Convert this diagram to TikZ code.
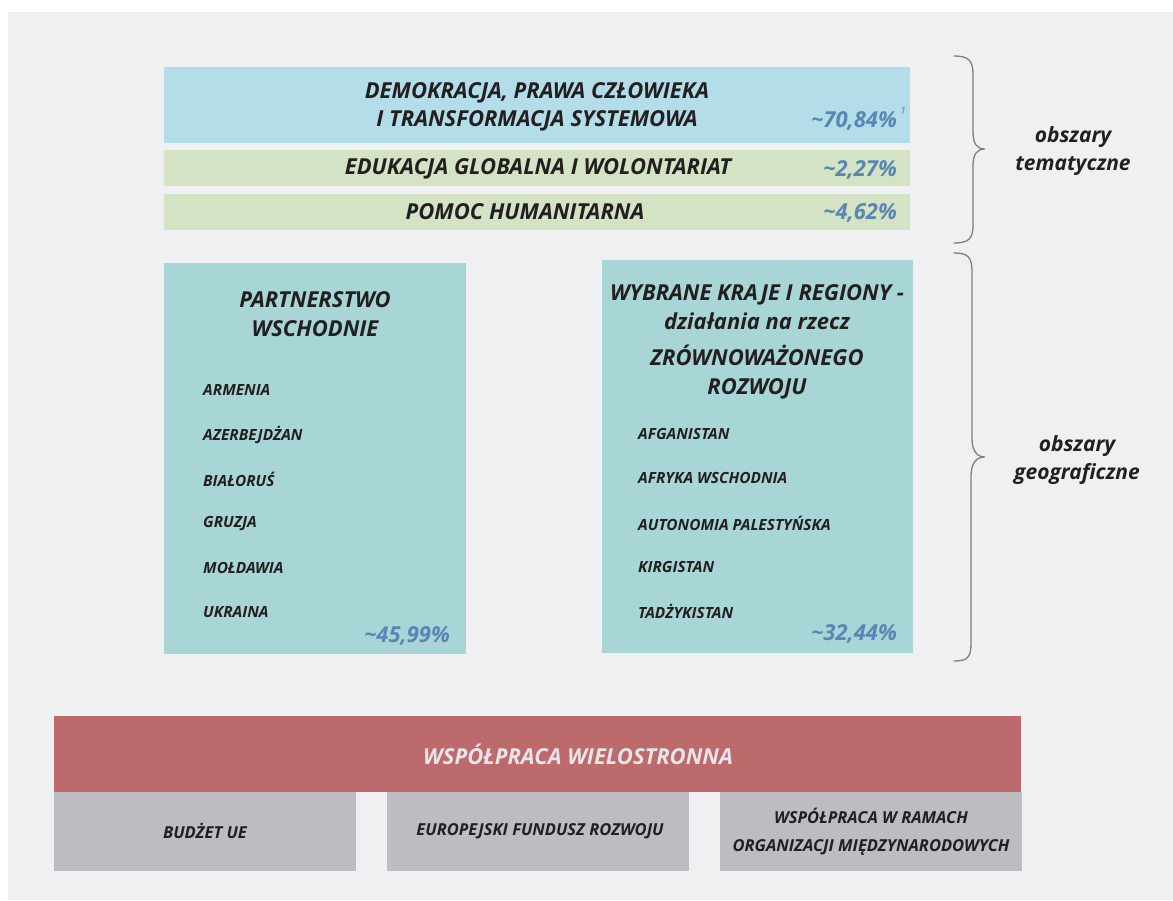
\documentclass[tikz,border=0pt]{standalone}
\usepackage{fontspec}
\setmainfont{Open Sans}
\newfontfamily\condf{Open Sans}
\definecolor{panel}{HTML}{EFF0F2}
\definecolor{bluebox}{HTML}{B3DDE9}
\definecolor{greenbox}{HTML}{D3E3C3}
\definecolor{geobox}{HTML}{A8D5D6}
\definecolor{redbox}{HTML}{BD6A6D}
\definecolor{greybox}{HTML}{BCBDC0}
\definecolor{ink}{HTML}{231F20}
\definecolor{pct}{HTML}{5A86B3}
\definecolor{lighttxt}{HTML}{E6E6E8}
\definecolor{bracec}{HTML}{7F7F7F}
\tikzset{
  area/.style={draw=none, inner sep=0pt, outer sep=0pt, anchor=north west},
  head/.style={text=ink, font=\condf\bfseries\itshape\fontsize{22}{28.5}\selectfont, align=center, inner sep=0pt},
  pcttxt/.style={text=pct, font=\condf\bfseries\itshape\fontsize{22}{26}\selectfont, inner sep=0pt, anchor=east},
  country/.style={text=ink, font=\bfseries\itshape\fontsize{15.4}{18}\selectfont, inner sep=0pt, anchor=west},
  side/.style={text=ink, font=\bfseries\itshape\fontsize{21}{28}\selectfont, align=center, inner sep=0pt},
  foot/.style={text=ink, font=\condf\bfseries\itshape\fontsize{16.5}{28}\selectfont, align=center, inner sep=0pt},
  bracepath/.style={draw=bracec, line width=1.3pt, line cap=round},
}
\begin{document}
\begin{tikzpicture}[x=1pt,y=-1pt]
\useasboundingbox (0,0) rectangle (1173,900);
\fill[white] (0,0) rectangle (1173,900);
\fill[panel] (8,12) rectangle (1173,900);

% thematic areas
\node[area, fill=bluebox, minimum width=746pt, minimum height=76pt] (demo) at (164,67) {};
\node[area, fill=greenbox, minimum width=746pt, minimum height=36pt] (edu) at (164,150) {};
\node[area, fill=greenbox, minimum width=746pt, minimum height=36pt] (hum) at (164,194) {};

\node[head] (demot) at (537,107) {DEMOKRACJA, PRAWA CZŁOWIEKA\\I TRANSFORMACJA SYSTEMOWA};
\node[pcttxt] (demop) at (897,121) {\textasciitilde70,84\%};
\node[text=pct, font=\condf\itshape\fontsize{10}{11}\selectfont, inner sep=0pt] (demon) at (903,111) {1};
\node[head] (edut) at (538,169) {EDUKACJA GLOBALNA I WOLONTARIAT};
\node[pcttxt] (edup) at (897,170) {\textasciitilde2,27\%};
\node[head] (humt) at (525,212) {POMOC HUMANITARNA};
\node[pcttxt] (hump) at (897,213) {\textasciitilde4,62\%};

% geographic areas
\node[area, fill=geobox, minimum width=302pt, minimum height=391pt] (pw) at (164,263) {};
\node[area, fill=geobox, minimum width=311pt, minimum height=393pt] (wk) at (602,260) {};

\node[head] (pwt) at (315,314) {PARTNERSTWO\\WSCHODNIE};
\node[country] (c1) at (203,390) {ARMENIA};
\node[country] (c2) at (203,435) {AZERBEJDŻAN};
\node[country] (c3) at (203,479) {BIAŁORUŚ};
\node[country] (c4) at (203,524) {GRUZJA};
\node[country] (c5) at (203,568) {MOŁDAWIA};
\node[country] (c6) at (203,612) {UKRAINA};
\node[pcttxt] (pwp) at (450,636) {\textasciitilde45,99\%};

\node[head] (wkt1) at (757,307) {WYBRANE KRAJE I REGIONY -\\działania na rzecz};
\node[head] (wkt2) at (757,372) {ZRÓWNOWAŻONEGO\\ROZWOJU};
\node[country] (d1) at (638,434) {AFGANISTAN};
\node[country] (d2) at (638,478) {AFRYKA WSCHODNIA};
\node[country] (d3) at (638,523) {AUTONOMIA PALESTYŃSKA};
\node[country] (d4) at (638,567) {KIRGISTAN};
\node[country] (d5) at (638,611) {TADŻYKISTAN};
\node[pcttxt] (wkp) at (897,634) {\textasciitilde32,44\%};

% braces
\draw[bracepath] (954,56) .. controls (968,56) and (973,60) .. (973,74) -- (973,132)
  .. controls (973,144) and (977,149) .. (985,149)
  .. controls (977,149) and (973,154) .. (973,166) -- (973,226)
  .. controls (973,239) and (968,243) .. (954,243);
\draw[bracepath] (954,253) .. controls (968,253) and (972,257) .. (972,272) -- (972,438)
  .. controls (972,451) and (977,457) .. (985,457)
  .. controls (977,457) and (971,462) .. (971,477) -- (971,643)
  .. controls (971,657) and (968,661) .. (954,661);
\node[side] (tem) at (1073,151) {obszary\\tematyczne};
\node[side] (geo) at (1077,460) {obszary\\geograficzne};

% multilateral
\node[area, fill=redbox, minimum width=967pt, minimum height=76pt] (wiel) at (54,716) {};
\node[head, text=lighttxt, font=\condf\bfseries\itshape\fontsize{22}{26}\selectfont] (wielt) at (578,754) {WSPÓŁPRACA WIELOSTRONNA};
\node[area, fill=greybox, minimum width=302pt, minimum height=79pt] (g1) at (54,792) {};
\node[area, fill=greybox, minimum width=302pt, minimum height=79pt] (g2) at (387,792) {};
\node[area, fill=greybox, minimum width=302pt, minimum height=79pt] (g3) at (720,792) {};
\node[foot] (g1t) at (205,831) {BUDŻET UE};
\node[foot] (g2t) at (540,831) {EUROPEJSKI FUNDUSZ ROZWOJU};
\node[foot] (g3t) at (871,832) {WSPÓŁPRACA W RAMACH\\ORGANIZACJI MIĘDZYNARODOWYCH};
\end{tikzpicture}
\end{document}
